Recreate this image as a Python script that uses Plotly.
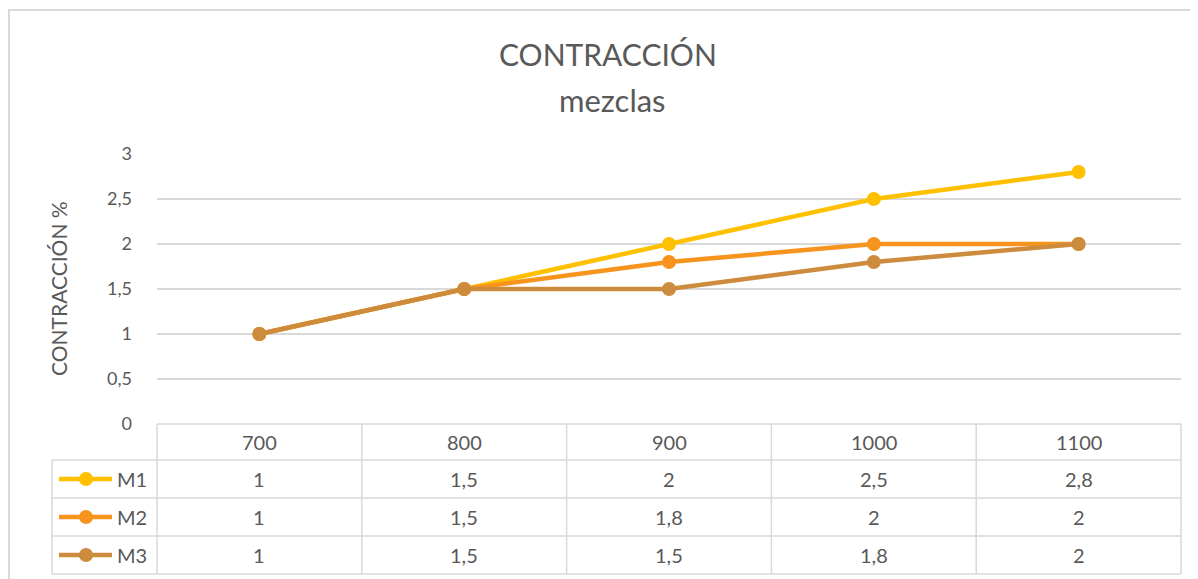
import plotly.graph_objects as go

# ---------------- data ----------------
categories = ["700", "800", "900", "1000", "1100"]
series_names = ["M1", "M2", "M3"]
m1_values = [1, 1.5, 2, 2.5, 2.8]
m2_values = [1, 1.5, 1.8, 2, 2]
m3_values = [1, 1.5, 1.5, 1.8, 2]
y_tick_values = [0, 0.5, 1, 1.5, 2, 2.5, 3]
y_tick_labels = ["0", "0,5", "1", "1,5", "2", "2,5", "3"]
title_line1 = "CONTRACCIÓN"
title_line2 = "mezclas"
y_title = "CONTRACCIÓN %"

# ---------------- style ----------------
W, H = 1198, 579
OX, OY = 8, 8          # page body margin offset of the figure div
FONT = "Lato"
TXT = "#595959"
GRID = "#D9D9D9"
colors = ["#FFC000", "#F7941D", "#CD8B3E"]
all_values = [m1_values, m2_values, m3_values]


def px(x):
    return (x - OX) / W


def py(y):
    return 1 - (y - OY) / H


plot_left, plot_right = 157, 1181
plot_top, plot_bottom = 154, 424
xd = [px(plot_left), px(plot_right)]
yd = [py(plot_bottom), py(plot_top)]

fig = go.Figure()
for name, vals, col in zip(series_names, all_values, colors):
    fig.add_trace(go.Scatter(
        x=categories, y=vals, name=name, mode="lines+markers",
        line=dict(color=col, width=4.5),
        marker=dict(color=col, size=14),
        showlegend=False, hoverinfo="x+y+name",
    ))

shapes = []
annotations = []

# chart border (left and top visible)
shapes.append(dict(type="line", xref="paper", yref="paper",
                   x0=px(9), x1=px(9), y0=py(10), y1=py(600),
                   line=dict(color=GRID, width=2)))
shapes.append(dict(type="line", xref="paper", yref="paper",
                   x0=px(8), x1=px(1220), y0=py(10), y1=py(10),
                   line=dict(color=GRID, width=2)))

# data table
n = len(categories)
col_w = (plot_right - plot_left) / n
row_edges = [424, 460, 498, 536, 574]
legend_left = 52

shapes.append(dict(type="line", xref="paper", yref="paper",
                   x0=px(plot_left), x1=px(plot_right), y0=py(row_edges[0]), y1=py(row_edges[0]),
                   line=dict(color=GRID, width=1.5)))
for ry in row_edges[1:]:
    shapes.append(dict(type="line", xref="paper", yref="paper",
                       x0=px(legend_left), x1=px(plot_right), y0=py(ry), y1=py(ry),
                       line=dict(color=GRID, width=1.5)))
for i in range(n + 1):
    xx = plot_left + i * col_w
    shapes.append(dict(type="line", xref="paper", yref="paper",
                       x0=px(xx), x1=px(xx), y0=py(row_edges[0]), y1=py(row_edges[-1]),
                       line=dict(color=GRID, width=1.5)))
shapes.append(dict(type="line", xref="paper", yref="paper",
                   x0=px(legend_left), x1=px(legend_left), y0=py(row_edges[1]), y1=py(row_edges[-1]),
                   line=dict(color=GRID, width=1.5)))

hdr_y = (row_edges[0] + row_edges[1]) / 2
for i, c in enumerate(categories):
    annotations.append(dict(x=i, xref="x", y=py(hdr_y), yref="paper", text=c,
                            showarrow=False, font=dict(family=FONT, size=20, color=TXT),
                            xanchor="center", yanchor="middle"))


def fmt(v):
    return f"{v:g}".replace(".", ",")


for r, (name, vals, col) in enumerate(zip(series_names, all_values, colors)):
    cy = (row_edges[r + 1] + row_edges[r + 2]) / 2
    for i, v in enumerate(vals):
        annotations.append(dict(x=i, xref="x", y=py(cy), yref="paper", text=fmt(v),
                                showarrow=False, font=dict(family=FONT, size=20, color=TXT),
                                xanchor="center", yanchor="middle"))
    shapes.append(dict(type="line", xref="paper", yref="paper",
                       x0=px(59), x1=px(112), y0=py(cy), y1=py(cy),
                       line=dict(color=col, width=4.5)))
    shapes.append(dict(type="circle", xref="paper", yref="paper",
                       x0=px(86 - 7), x1=px(86 + 7), y0=py(cy - 7), y1=py(cy + 7),
                       fillcolor=col, line=dict(color=col, width=0)))
    annotations.append(dict(x=px(115), xref="paper", y=py(cy), yref="paper", text=name,
                            showarrow=False, font=dict(family=FONT, size=20, color=TXT),
                            xanchor="left", yanchor="middle"))

# titles
annotations.append(dict(x=px(608), xref="paper", y=py(54), yref="paper", text=title_line1,
                        showarrow=False, font=dict(family=FONT, size=30, color=TXT),
                        xanchor="center", yanchor="middle"))
annotations.append(dict(x=px(612), xref="paper", y=py(100), yref="paper", text=title_line2,
                        showarrow=False, font=dict(family=FONT, size=31, color=TXT),
                        xanchor="center", yanchor="middle"))
annotations.append(dict(x=px(58), xref="paper", y=py(289), yref="paper", text=y_title,
                        showarrow=False, textangle=-90,
                        font=dict(family=FONT, size=21, color=TXT),
                        xanchor="center", yanchor="middle"))

fig.update_layout(
    width=W, height=H,
    margin=dict(l=0, r=0, t=0, b=0, pad=0),
    paper_bgcolor="white", plot_bgcolor="white",
    font=dict(family=FONT, color=TXT),
    xaxis=dict(domain=xd, type="category", range=[-0.5, n - 0.5], automargin=False,
               showticklabels=False, showgrid=False, zeroline=False,
               showline=False, ticks=""),
    yaxis=dict(domain=yd, range=[0, 3], tickvals=y_tick_values, ticktext=y_tick_labels,
               automargin=False,
               showgrid=True, gridcolor=GRID, gridwidth=1.5, zeroline=False,
               showline=False, ticks="", ticklabelstandoff=24,
               tickfont=dict(family=FONT, size=18, color=TXT)),
    shapes=shapes,
    annotations=annotations,
)

fig.write_html("out.html")
